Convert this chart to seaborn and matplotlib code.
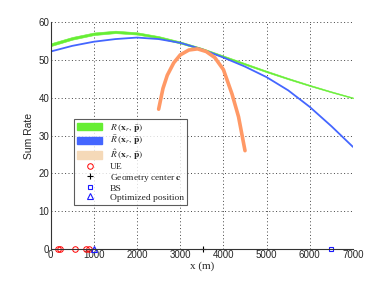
import numpy as np
import pandas as pd
import matplotlib
matplotlib.use("Agg")
import matplotlib.pyplot as plt
import seaborn as sns
from matplotlib.patches import Patch
from matplotlib.lines import Line2D

# curve samples
x_main = [0, 500, 1000, 1500, 2000, 2500, 3000, 3500, 4000, 4500, 5000, 5500, 6000, 6500, 7000]
r_true = [54.1, 55.8, 57.0, 57.5, 57.1, 56.1, 54.7, 53.0, 51.0, 49.0, 47.0, 45.1, 43.3, 41.6, 40.0]
r_bar = [52.3, 53.8, 54.9, 55.6, 56.0, 55.6, 54.6, 52.9, 50.7, 48.3, 45.5, 42.0, 37.6, 32.5, 27.0]
x_hat = [2500, 2600, 2700, 2850, 3000, 3200, 3400, 3600, 3800, 4000, 4200, 4350, 4500]
r_hat = [37.0, 42.5, 46.0, 49.3, 51.4, 52.7, 53.0, 52.3, 50.7, 47.5, 41.0, 35.0, 26.0]

ue_x = [170, 226, 558, 807, 884]
center_x = [3520]
bs_x = [6500]
opt_x = [1000]

labels = [r"$R\,(\mathbf{x}_r,\,\bar{\mathbf{p}})$",
          r"$\bar{R}\,(\mathbf{x}_r,\,\bar{\mathbf{p}})$",
          r"$\hat{R}\,(\mathbf{x}_r,\,\bar{\mathbf{p}})$"]

sns.set_style("white")
plt.rcParams["font.family"] = ["Liberation Sans", "DejaVu Sans"]
plt.rcParams["mathtext.fontset"] = "stix"

green, blue, orange = "#66ee33", "#4466ff", "#ff9966"

fig, ax = plt.subplots(figsize=(3.9, 2.81), dpi=100)
df_main = pd.DataFrame({"x": x_main, "R": r_true, "Rbar": r_bar})
df_hat = pd.DataFrame({"x": x_hat, "Rhat": r_hat})

# green band tapers from thick on the left to thin on the right
half_w = np.interp(df_main["x"], [0, 7000], [0.38, 0.12])
ax.fill_between(df_main["x"], df_main["R"] - half_w, df_main["R"] + half_w,
                color=green, linewidth=0.4, edgecolor=green)
sns.lineplot(data=df_main, x="x", y="Rbar", color=blue, linewidth=1.3, ax=ax)
sns.lineplot(data=df_hat, x="x", y="Rhat", color=orange, linewidth=2.6, ax=ax)

ax.plot(ue_x, [0] * len(ue_x), "o", mfc="none", mec="red", ms=4, mew=0.7, clip_on=False)
ax.plot(center_x, [0], "+", color="black", ms=5, mew=0.8, clip_on=False)
ax.plot(bs_x, [0], "s", mfc="none", mec="#1a1aff", ms=3.5, mew=0.8, clip_on=False)
ax.plot(opt_x, [0], "^", mfc="none", mec="#1a1aff", ms=4, mew=0.8, clip_on=False)

ax.set_xlim(0, 7000)
ax.set_ylim(0, 60)
ax.set_xticks(range(0, 7001, 1000))
ax.set_yticks(range(0, 61, 10))
ax.grid(True, linestyle=(0, (1, 2.5)), color="#444444", linewidth=0.7)
ax.tick_params(direction="in", labelsize=7, length=3, pad=1)
for s in ["top", "right"]:
    ax.spines[s].set_visible(False)
for s in ["left", "bottom"]:
    ax.spines[s].set_color("#333333")
    ax.spines[s].set_linewidth(0.8)

ax.set_xlabel("x (m)", fontsize=8, family=["Liberation Serif"], labelpad=1)
ax.set_ylabel("Sum Rate", fontsize=7.5, labelpad=3)

handles = [Patch(facecolor=green, edgecolor=green),
           Patch(facecolor=blue, edgecolor=blue),
           Patch(facecolor="#f5d9b8", edgecolor="#f5d9b8"),
           Line2D([], [], marker="o", ls="none", mfc="none", mec="red", ms=4, mew=0.7),
           Line2D([], [], marker="+", ls="none", color="black", ms=5, mew=0.8),
           Line2D([], [], marker="s", ls="none", mfc="none", mec="#1a1aff", ms=3.5, mew=0.8),
           Line2D([], [], marker="^", ls="none", mfc="none", mec="#1a1aff", ms=4, mew=0.8)]
leg_labels = labels + ["UE", r"Geometry center $\mathbf{c}$", "BS", "Optimized position"]
leg = ax.legend(handles, leg_labels, loc="lower left", bbox_to_anchor=(0.077, 0.195),
                prop={"family": "Liberation Serif", "size": 6.8}, frameon=True, fancybox=False,
                edgecolor="#333333", handlelength=2.7, handleheight=0.8, labelspacing=0.02,
                borderpad=0.3, handletextpad=0.8, borderaxespad=0)
leg.get_frame().set_linewidth(0.8)

plt.subplots_adjust(left=0.13, right=0.905, bottom=0.115, top=0.92)
plt.savefig("out.png", dpi=100)
